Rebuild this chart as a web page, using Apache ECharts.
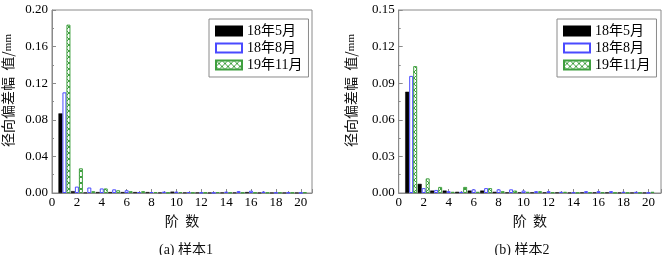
<!DOCTYPE html>
<html><head><meta charset="utf-8">
<script src="https://cdn.jsdelivr.net/npm/echarts@6/dist/echarts.min.js"></script>
<style>html,body{margin:0;padding:0;background:#fff}#c{width:664px;height:255px}</style>
</head><body><div id="c"></div>
<script>
const orders = [1,2,3,4,5,6,7,8,9,10,11,12,13,14,15,16,17,18,19,20];
const seriesNames = ['18年5月','18年8月','19年11月'];
// Sample 1
const s1May = [0.087,0.002,0.0005,0.001,0.001,0.001,0.001,0.001,0.0005,0.0015,0.0005,0.0005,0.0003,0.0005,0.0005,0.001,0.0003,0.0003,0.0003,0.0003];
const s1Aug = [0.110,0.007,0.006,0.005,0.004,0.003,0.001,0.001,0.0015,0.0015,0.001,0.0005,0.0003,0.0015,0.002,0.0025,0.0015,0.0005,0.0005,0.0003];
const s1Nov = [0.184,0.027,0.002,0.005,0.003,0.002,0.002,0.001,0.0005,0.001,0.0005,0.0005,0.001,0.0005,0.0005,0.0005,0.0005,0.0005,0.0005,0.0008];
// Sample 2
const s2May = [0.083,0.0075,0.002,0.002,0.001,0.002,0.002,0.001,0.0005,0.0005,0.0005,0.0005,0.0005,0.0003,0.0005,0.0005,0.0005,0.0003,0.0003,0.0003];
const s2Aug = [0.096,0.004,0.0025,0.0015,0.001,0.003,0.004,0.003,0.003,0.002,0.0015,0.0015,0.001,0.0005,0.0015,0.0015,0.0015,0.001,0.001,0.0003];
const s2Nov = [0.104,0.012,0.005,0.001,0.005,0.001,0.004,0.0015,0.002,0.001,0.0015,0.0005,0.001,0.0003,0.0005,0.0005,0.0003,0.0003,0.0003,0.001];

const yTicks1 = {min:0, max:0.20, interval:0.04};
const yTicks2 = {min:0, max:0.15, interval:0.03};
const yName = '径向偏差幅  值/{s|mm}';
const xName = '阶  数';
const captions = ['(a) 样本1','(b) 样本2'];

function hatch(){
  const c = document.createElement('canvas');
  c.width = 6; c.height = 6;
  const g = c.getContext('2d');
  g.fillStyle = '#fff'; g.fillRect(0,0,6,6);
  g.strokeStyle = '#3f9f3f'; g.lineWidth = 1;
  g.beginPath();
  g.moveTo(0,0); g.lineTo(6,6);
  g.moveTo(6,0); g.lineTo(0,6);
  g.stroke();
  return c;
}
const pat = {image: hatch(), repeat: 'repeat'};
const styles = [
  {color:'#000', borderColor:'#000', borderWidth:0.5},
  {color:'#fff', borderColor:'#4a4aff', borderWidth:1},
  {color:pat, borderColor:'#3f9f3f', borderWidth:1}
];
const serif = 'Liberation Serif, Noto Sans CJK SC, serif';
const gray = '#8a8a8a';

function xAxis(idx, max){
  return {type:'value', gridIndex:idx, min:0, max:max, interval:2,
    name:xName, nameLocation:'middle', nameGap:21,
    nameTextStyle:{fontFamily:'Noto Sans CJK SC', fontSize:14, color:'#111'},
    axisLine:{lineStyle:{color:gray, width:1}},
    axisTick:{inside:true, length:4, lineStyle:{color:gray}},
    minorTick:{show:true, splitNumber:2, length:2, lineStyle:{color:gray}},
    splitLine:{show:false},
    axisLabel:{margin:3, fontFamily:serif, fontSize:13, color:'#000',
      formatter:v=> (Math.abs(v-Math.round(v))<1e-6 && Math.round(v)%2===0) ? String(Math.round(v)) : ''}
  };
}
function yAxis(idx, t, gap){
  return {type:'value', gridIndex:idx, min:t.min, max:t.max, interval:t.interval,
    name:yName, nameLocation:'middle', nameGap:gap, nameRotate:90,
    nameTextStyle:{fontFamily:'Noto Sans CJK SC', fontSize:14, color:'#111', padding:[0,0,0,22],
      rich:{s:{fontFamily:'Liberation Serif', fontSize:11, color:'#111'}}},
    axisLine:{show:true, lineStyle:{color:gray, width:1}},
    axisTick:{inside:true, length:4, lineStyle:{color:gray}},
    minorTick:{show:true, splitNumber:2, length:2, lineStyle:{color:gray}},
    splitLine:{show:false},
    axisLabel:{margin:4, fontFamily:serif, fontSize:13, color:'#000', formatter:v=>v.toFixed(2)}
  };
}
function mk(idx, arrs){
  return arrs.map((a,k)=>({
    name:seriesNames[k], type:'bar', xAxisIndex:idx, yAxisIndex:idx,
    barWidth:4, barGap:'0%',
    itemStyle:styles[k],
    data:orders.map((o,i)=>[o,a[i]])
  }));
}
function legend(left){
  return {left:left, top:19, orient:'vertical', icon:'rect', itemWidth:26, itemHeight:9,
    itemGap:3, padding:[5,6], borderColor:gray, borderWidth:1, backgroundColor:'#fff',
    textStyle:{fontFamily:serif, fontSize:14, color:'#000'}, data:seriesNames};
}
const chart = echarts.init(document.getElementById('c'), null, {renderer:'canvas'});
chart.setOption({
  animation:false,
  grid:[
    {left:49.5, right:352, top:10, bottom:62, show:true, borderColor:gray, borderWidth:1},
    {left:398.7, right:2, top:10, bottom:62, show:true, borderColor:gray, borderWidth:1}
  ],
  xAxis:[xAxis(0,20.9), xAxis(1,21)],
  yAxis:[yAxis(0,yTicks1,37), yAxis(1,yTicks2,41)],
  legend:[legend(209), legend(557)],
  title:[
    {text:captions[0], left:181, top:238, textAlign:'center', textStyle:{fontFamily:serif, fontSize:14, fontWeight:'normal', color:'#111'}},
    {text:captions[1], left:517, top:238, textAlign:'center', textStyle:{fontFamily:serif, fontSize:14, fontWeight:'normal', color:'#111'}}
  ],
  series:[...mk(0,[s1May,s1Aug,s1Nov]), ...mk(1,[s2May,s2Aug,s2Nov])]
});
</script></body></html>
